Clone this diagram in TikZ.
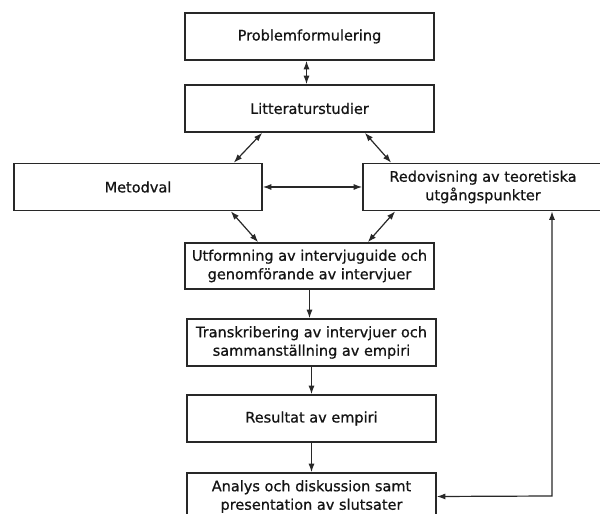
\documentclass[tikz,border=0pt]{standalone}
\usepackage{fontspec}
\setmainfont{DejaVu Sans}[FakeBold=0.7]
\usetikzlibrary{arrows.meta,positioning}
\definecolor{BoxLine}{RGB}{40,40,40}
\definecolor{TextDark}{RGB}{20,20,20}

\begin{document}
\begin{tikzpicture}[x=1pt,y=1pt,
  stage/.style={draw=BoxLine,line width=1.6pt,fill=white,text=TextDark,align=center,
    minimum width=249pt,minimum height=47pt,inner sep=2pt,
    font=\fontsize{14.5}{18.5}\selectfont},
  link/.style={line width=1.2pt,draw=BoxLine,{Latex[length=8.5pt,width=6pt]}-{Latex[length=8.5pt,width=6pt]}},
  flow/.style={line width=1.2pt,draw=BoxLine,-{Latex[length=8.5pt,width=6pt]}}]
\useasboundingbox (0,0) rectangle (600,514);
\fill[white] (0,0) rectangle (600,514);
\node[stage] (prob) at (309.5,477.5) {Problemformulering};
\node[stage] (litt) at (309.5,405.5) {Litteraturstudier};
\node[stage,minimum width=248pt] (metod) at (138,327) {Metodval};
\node[stage,minimum width=240pt] (redov) at (483,327) {Redovisning av teoretiska\\utgångspunkter};
\node[stage,minimum height=46pt] (utf) at (309.5,248) {Utformning av intervjuguide och\\genomförande av intervjuer};
\node[stage] (trans) at (311.5,171.5) {Transkribering av intervjuer och\\sammanställning av empiri};
\node[stage] (res) at (311.5,95.5) {Resultat av empiri};
\node[stage] (analys) at (311.5,17.5) {Analys och diskussion samt\\presentation av slutsater};
\coordinate (fb) at (552,18);
\draw[link] ([xshift=-3pt]prob.south) -- ([xshift=-3pt]litt.north);
\draw[link] ([xshift=78pt]litt.south west) -- ([xshift=-29pt]metod.north east);
\draw[link] ([xshift=-70pt]litt.south east) -- ([xshift=29pt]redov.north west);
\draw[link] (metod.east) -- (redov.west);
\draw[link] ([xshift=-32pt]metod.south east) -- ([xshift=74pt]utf.north west);
\draw[link] ([xshift=33pt]redov.south west) -- ([xshift=-67pt]utf.north east);
\draw[flow] (utf.south) -- (utf.south |- trans.north);
\draw[flow] (trans.south) -- (res.north);
\draw[flow] (res.south) -- (analys.north);
\draw[link] (analys.east) -- (fb) -- (fb |- redov.south);
\end{tikzpicture}
\end{document}
